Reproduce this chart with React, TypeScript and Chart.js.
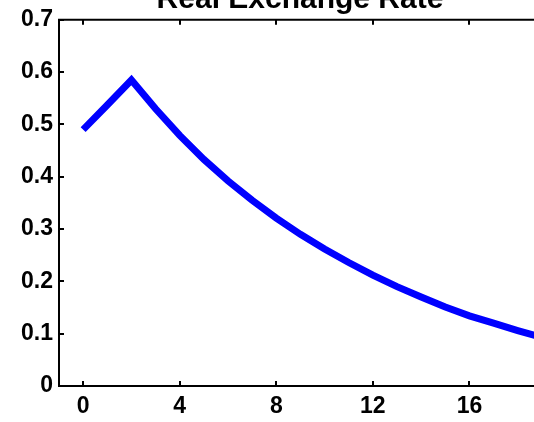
import React, { useEffect, useRef } from "react";
import { Chart, registerables } from "chart.js";

Chart.register(...registerables);

const chartTitle = "Real Exchange Rate";
const periods = [0, 1, 2, 3, 4, 5, 6, 7, 8, 9, 10, 11, 12, 13, 14, 15, 16, 17, 18, 19, 20];
const realExchangeRate = [
  0.49, 0.537, 0.585, 0.53, 0.479, 0.433, 0.392, 0.355, 0.321, 0.29, 0.262,
  0.236, 0.212, 0.19, 0.17, 0.151, 0.134, 0.12, 0.106, 0.093, 0.082,
];
const xTickValues = [0, 4, 8, 12, 16, 20];
const yTickValues = [0, 0.1, 0.2, 0.3, 0.4, 0.5, 0.6, 0.7];

const TICK_FONT = { family: "'Liberation Sans', Arial, sans-serif", size: 23, weight: "bold" as const };

const frameAndTitle = {
  id: "frameAndTitle",
  afterDraw(chart: any) {
    const { ctx, chartArea, scales } = chart;
    const x = scales.x;
    const y = scales.y;
    ctx.save();
    ctx.strokeStyle = "#000";
    ctx.lineWidth = 2;
    ctx.beginPath();
    ctx.moveTo(chartArea.left - 1, chartArea.top);
    ctx.lineTo(chartArea.right, chartArea.top);
    ctx.stroke();
    ctx.beginPath();
    for (const v of xTickValues) {
      const px = Math.round(x.getPixelForValue(v));
      ctx.moveTo(px, chartArea.bottom);
      ctx.lineTo(px, chartArea.bottom - 5);
      ctx.moveTo(px, chartArea.top);
      ctx.lineTo(px, chartArea.top + 5);
    }
    for (const v of yTickValues) {
      const py = Math.round(y.getPixelForValue(v));
      ctx.moveTo(chartArea.left, py);
      ctx.lineTo(chartArea.left + 5, py);
    }
    ctx.stroke();
    ctx.fillStyle = "#000";
    ctx.font = "bold 30px 'Liberation Sans', Arial, sans-serif";
    ctx.textAlign = "center";
    ctx.textBaseline = "alphabetic";
    ctx.fillText(chartTitle, 300, 7.5);
    ctx.restore();
  },
};

export default function App() {
  const canvasRef = useRef<HTMLCanvasElement | null>(null);

  useEffect(() => {
    if (!canvasRef.current) return;
    const chart = new Chart(canvasRef.current, {
      type: "line",
      data: {
        datasets: [
          {
            label: chartTitle,
            data: periods.map((p, i) => ({ x: p, y: realExchangeRate[i] })),
            borderColor: "#0000ff",
            backgroundColor: "#0000ff",
            borderWidth: 7,
            pointRadius: 0,
            tension: 0,
            fill: false,
          },
        ],
      },
      options: {
        responsive: false,
        animation: false,
        layout: { padding: { top: 16, right: 34, left: 0, bottom: 0 } },
        plugins: {
          legend: { display: false },
          tooltip: { enabled: false },
          title: { display: false },
        },
        scales: {
          x: {
            type: "linear",
            min: -1,
            max: 20,
            afterBuildTicks(scale: any) {
              scale.ticks = xTickValues.map((v) => ({ value: v }));
            },
            afterFit(scale: any) {
              scale.height = 36;
            },
            grid: { display: false, drawTicks: false },
            border: { display: true, color: "#000", width: 2 },
            ticks: {
              color: "#000",
              font: TICK_FONT,
              padding: 7,
              maxRotation: 0,
              autoSkip: false,
              callback: (v: any) => String(v),
            },
          },
          y: {
            type: "linear",
            min: 0,
            max: 0.7,
            afterBuildTicks(scale: any) {
              scale.ticks = yTickValues.map((v) => ({ value: v }));
            },
            afterFit(scale: any) {
              scale.width = 59;
            },
            grid: { display: false, drawTicks: false },
            border: { display: true, color: "#000", width: 2 },
            ticks: {
              color: "#000",
              font: TICK_FONT,
              padding: 6,
              autoSkip: false,
              callback: (v: any) => (Number(v) === 0 ? "0" : Number(v).toFixed(1)),
            },
          },
        },
      },
      plugins: [frameAndTitle],
    });
    return () => chart.destroy();
  }, []);

  return (
    <div
      style={{
        position: "fixed",
        left: 0,
        top: 0,
        width: 534,
        height: 422,
        overflow: "hidden",
        background: "#fff",
      }}
    >
      <canvas ref={canvasRef} width={600} height={422} style={{ display: "block" }} />
    </div>
  );
}
